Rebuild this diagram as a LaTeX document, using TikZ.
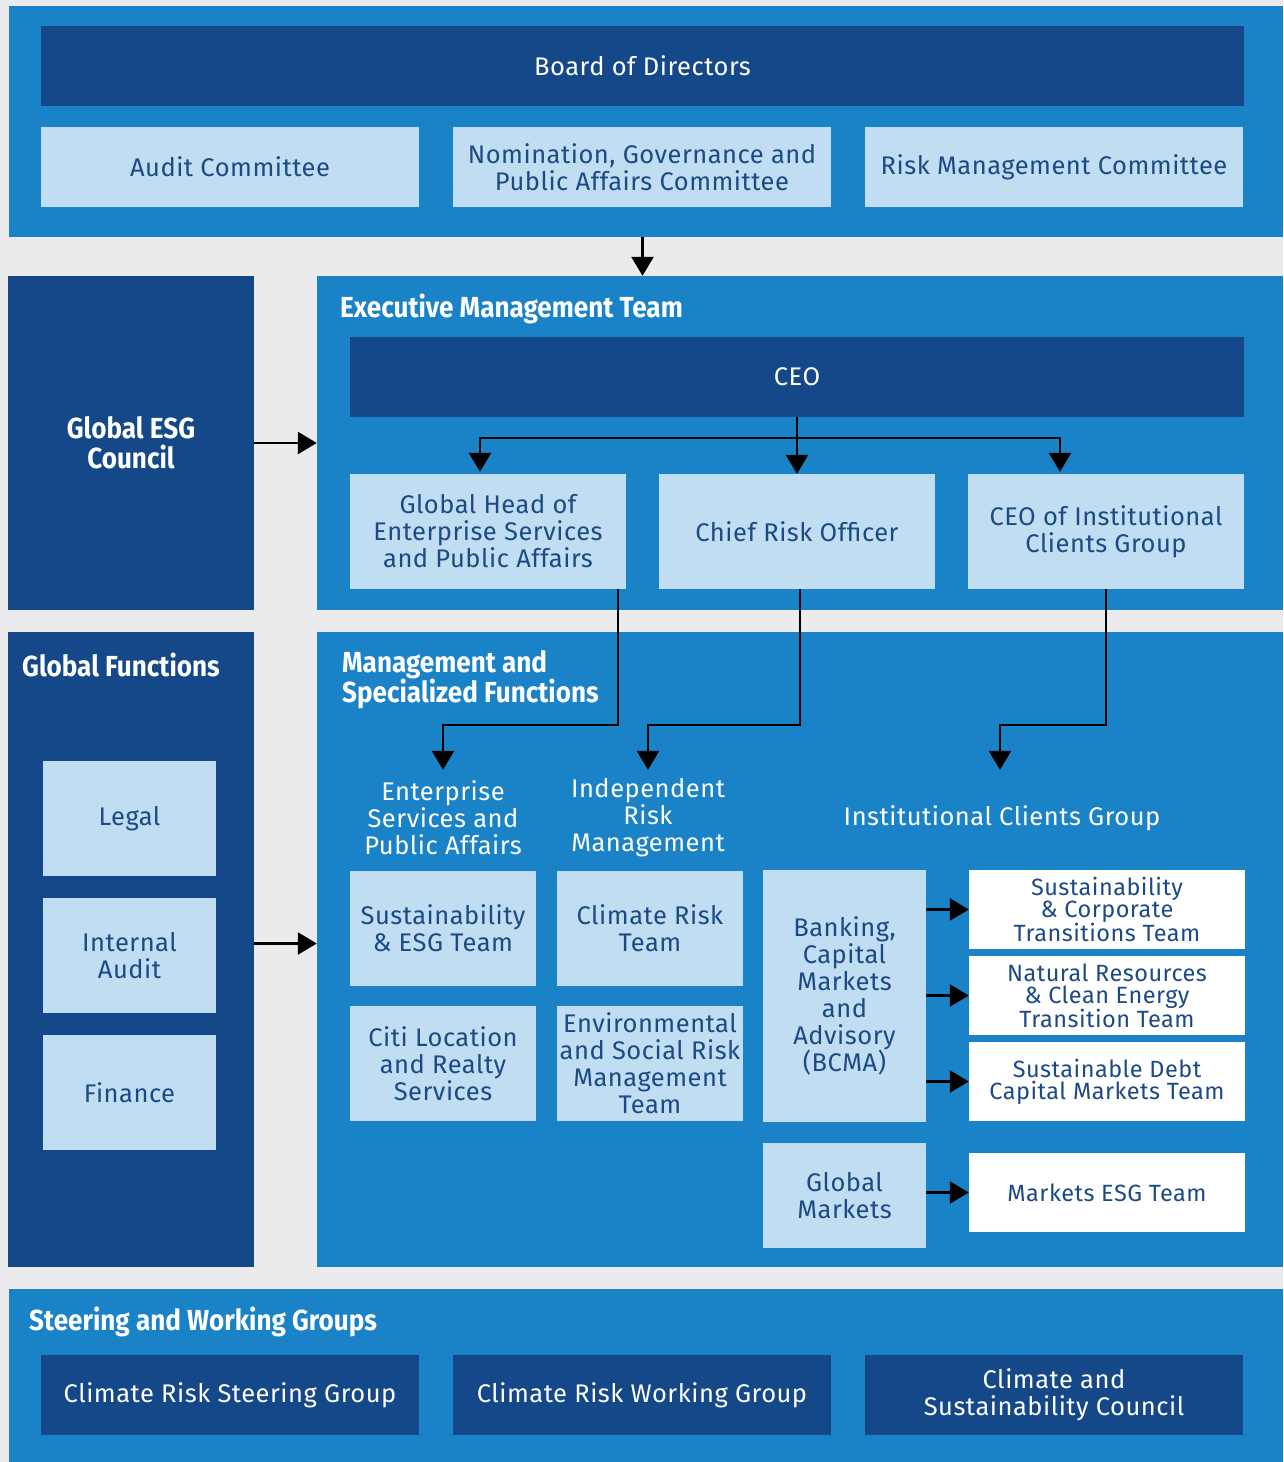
\documentclass[tikz,border=0pt]{standalone}
\usepackage{fontspec}
\setmainfont{Fira Sans}[LetterSpace=2.0]
\newfontfamily\headfont{Fira Sans}[FakeStretch=0.9]
\usepackage{xcolor}
\usepackage{tikz}
\usetikzlibrary{positioning, arrows.meta, calc}

\definecolor{bggray}{HTML}{EBEBEE}
\definecolor{midblue}{HTML}{1A82C6}
\definecolor{darkblue}{HTML}{144888}
\definecolor{lightblue}{HTML}{C0DDF1}
\definecolor{textblue}{HTML}{1C4A85}

\begin{document}
\begin{tikzpicture}[x=1pt, y=-1pt, every node/.style={font=\fontsize{25.5}{27}\selectfont}]
        % Styles
        \tikzstyle{panel} = [rectangle, fill=midblue, inner sep=0pt]
        \tikzstyle{darkpanel} = [rectangle, fill=darkblue, inner sep=0pt]
        \tikzstyle{lightbox} = [rectangle, fill=lightblue, text=textblue, align=center, inner sep=0pt]
        \tikzstyle{darkbox} = [rectangle, fill=darkblue, text=white, align=center, inner sep=0pt]
        \tikzstyle{whitebox} = [rectangle, fill=white, text=textblue, align=center, inner sep=0pt,
                                minimum width=276pt, minimum height=79pt, font=\fontsize{23.5}{22}\selectfont]
        \tikzstyle{heading} = [text=white, align=left, inner sep=0pt,
                               font=\headfont\bfseries\fontsize{29}{30}\selectfont]
        \tikzstyle{sublabel} = [text=white, align=center, inner sep=0pt, minimum height=96pt]
        \tikzstyle{arrow} = [line width=2.5pt, -{Triangle[width=22pt,length=19pt]}]

        % Canvas
        \useasboundingbox (0,0) rectangle (1283,1462);
        \fill[bggray] (0,0) rectangle (1283,1462);

        % Panels
        \node[panel, minimum width=1274pt, minimum height=231pt] (toppanel) at (646,121.5) {};
        \node[panel, minimum width=966pt, minimum height=334pt] (execpanel) at (800,443) {};
        \node[panel, minimum width=966pt, minimum height=635pt] (mgmtpanel) at (800,949.5) {};
        \node[panel, minimum width=1274pt, minimum height=173pt] (steerpanel) at (646,1375.5) {};
        \node[darkpanel, minimum width=246pt, minimum height=635pt] (gfpanel) at (131,949.5) {};

        % Board and committees
        \node[darkbox, minimum width=1203pt, minimum height=80pt] (board) at (642.5,66) {Board of Directors};
        \node[lightbox, minimum width=378pt, minimum height=80pt] (audit) at (230,167) {Audit Committee};
        \node[lightbox, minimum width=378pt, minimum height=80pt] (nomgov) at (642,167) {Nomination, Governance and\\Public Affairs Committee};
        \node[lightbox, minimum width=378pt, minimum height=80pt] (riskcom) at (1054,167) {Risk Management Committee};

        % Executive management
        \node[darkbox, minimum width=246pt, minimum height=334pt, heading, align=center] (esgcouncil) at (131,443) {Global ESG\\Council};
        \node[heading, anchor=west] (exectitle) at (340,309) {Executive Management Team};
        \node[darkbox, minimum width=894pt, minimum height=80pt] (ceo) at (797,377) {CEO};
        \node[lightbox, minimum width=276pt, minimum height=115pt] (ghead) at (488,531.5) {Global Head of\\Enterprise Services\\and Public Affairs};
        \node[lightbox, minimum width=276pt, minimum height=115pt] (cro) at (797,531.5) {Chief Risk Officer};
        \node[lightbox, minimum width=276pt, minimum height=115pt] (icg) at (1106,531.5) {CEO of Institutional\\Clients Group};

        % Global functions
        \node[heading, anchor=west] (gftitle) at (22,665) {Global Functions};
        \node[lightbox, minimum width=173pt, minimum height=115pt] (legal) at (129.5,818.5) {Legal};
        \node[lightbox, minimum width=173pt, minimum height=115pt] (iaudit) at (129.5,955.5) {Internal\\Audit};
        \node[lightbox, minimum width=173pt, minimum height=115pt] (finance) at (129.5,1092.5) {Finance};

        % Management and specialized functions
        \node[heading, anchor=west] (mgmttitle) at (342,680) {Management and\\Specialized Functions};
        \node[sublabel] (espa) at (443,818) {Enterprise\\Services and\\Public Affairs};
        \node[sublabel] (irm) at (648,818) {Independent\\Risk\\Management};
        \node[sublabel] (icgl) at (1002,818) {Institutional Clients Group};
        \node[lightbox, minimum width=186pt, minimum height=115pt] (sesg) at (443,928.5) {Sustainability\\\& ESG Team};
        \node[lightbox, minimum width=186pt, minimum height=115pt] (crt) at (650,928.5) {Climate Risk\\Team};
        \node[lightbox, minimum width=186pt, minimum height=115pt] (citiloc) at (443,1063.5) {Citi Location\\and Realty\\Services};
        \node[lightbox, minimum width=186pt, minimum height=115pt] (esrm) at (650,1063.5) {Environmental\\and Social Risk\\Management\\Team};
        \node[lightbox, minimum width=163pt, minimum height=252pt] (bcma) at (844.5,996) {Banking,\\Capital\\Markets\\and\\Advisory\\(BCMA)};
        \node[lightbox, minimum width=163pt, minimum height=105pt] (gmkts) at (844.5,1195.5) {Global\\Markets};
        \node[whitebox] (sct) at (1107,909.5) {Sustainability\\\& Corporate\\Transitions Team};
        \node[whitebox] (nret) at (1107,995.5) {Natural Resources\\\& Clean Energy\\Transition Team};
        \node[whitebox] (sdcm) at (1107,1081.5) {Sustainable Debt\\Capital Markets Team};
        \node[whitebox] (mesg) at (1107,1192.5) {Markets ESG Team};

        % Steering and working groups
        \node[heading, anchor=west] (steertitle) at (29,1322) {Steering and Working Groups};
        \node[darkbox, minimum width=378pt, minimum height=80pt] (crsg) at (230,1395) {Climate Risk Steering Group};
        \node[darkbox, minimum width=378pt, minimum height=80pt] (crwg) at (642,1395) {Climate Risk Working Group};
        \node[darkbox, minimum width=378pt, minimum height=80pt] (csc) at (1054,1395) {Climate and\\Sustainability Council};

        % Arrows
        \draw [arrow] (board |- toppanel.south) -- (board |- execpanel.north);
        \draw [arrow] (esgcouncil.east) -- (execpanel.west |- esgcouncil.east);
        \draw [arrow] ($(gfpanel.east)+(0,-6)$) -- ($(mgmtpanel.west)+(0,-6)$);
        \draw [arrow] (ceo.south) -- ++(0,21) -| ($(ghead.north)+(-8,-2)$);
        \draw [arrow] (ceo.south) -- (cro.north);
        \draw [arrow] (ceo.south) -- ++(0,21) -| ($(icg.north)+(-46,-2)$);
        \draw [arrow] ($(ghead.south east)+(-8,0)$) -- ++(0,136) -| (espa.north);
        \draw [arrow] ($(cro.south)+(3,0)$) -- ++(0,136) -| (irm.north);
        \draw [arrow] (icg.south) -- ++(0,136) -| ($(icgl.north)+(-2,0)$);
        \draw [arrow] (bcma.east |- sct.west) -- (sct.west);
        \draw [arrow] (bcma.east |- nret.west) -- (nret.west);
        \draw [arrow] (bcma.east |- sdcm.west) -- (sdcm.west);
        \draw [arrow] (gmkts.east |- mesg.west) -- (mesg.west);
    \end{tikzpicture}
\end{document}
